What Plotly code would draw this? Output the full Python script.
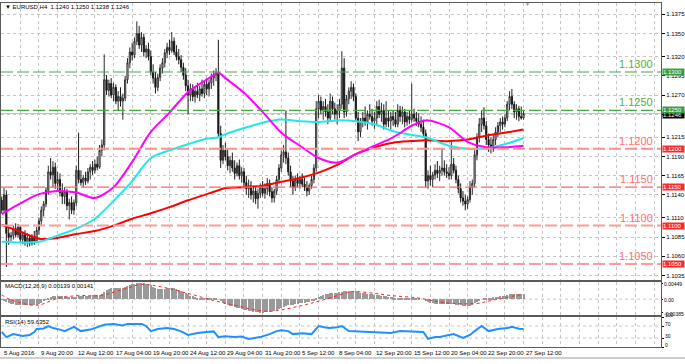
import plotly.graph_objects as go

# ---------------- data ----------------
x_labels = ["5 Aug 2016", "9 Aug 20:00", "12 Aug 12:00", "17 Aug 04:00", "19 Aug 20:00",
            "24 Aug 12:00", "29 Aug 04:00", "31 Aug 20:00", "5 Sep 12:00", "8 Sep 04:00",
            "12 Sep 20:00", "15 Sep 12:00", "20 Sep 04:00", "22 Sep 20:00", "27 Sep 12:00"]
x_label_idx = [0, 16, 32, 48, 64, 80, 96, 112, 128, 144, 160, 176, 192, 208, 224]
grid_idx = list(range(0, 281, 8))

opens = [
    1.1133, 1.1120, 1.1140, 1.1090, 1.1085, 1.1087, 1.1096, 1.1088,
    1.1098, 1.1082, 1.1088, 1.1079, 1.1084, 1.1077, 1.1086, 1.1080,
    1.1094, 1.1106, 1.1120, 1.1128, 1.1146, 1.1170, 1.1166, 1.1176,
    1.1155, 1.1160, 1.1143, 1.1138, 1.1144, 1.1126, 1.1130, 1.1120,
    1.1130, 1.1172, 1.1160, 1.1156, 1.1162, 1.1158, 1.1170, 1.1176,
    1.1172, 1.1180, 1.1176, 1.1198, 1.1205, 1.1290, 1.1276, 1.1285,
    1.1270, 1.1280, 1.1262, 1.1268, 1.1262, 1.1266, 1.1290, 1.1312,
    1.1326, 1.1322, 1.1340, 1.1350, 1.1335, 1.1345, 1.1326, 1.1330,
    1.1320, 1.1300, 1.1292, 1.1280, 1.1293, 1.1305, 1.1312, 1.1325,
    1.1332, 1.1328, 1.1340, 1.1326, 1.1320, 1.1316, 1.1306, 1.1296,
    1.1282, 1.1270, 1.1278, 1.1268, 1.1275, 1.1270, 1.1278, 1.1272,
    1.1284, 1.1278, 1.1286, 1.1292, 1.1296, 1.1298, 1.1220, 1.1185,
    1.1198, 1.1190, 1.1178, 1.1185, 1.1175, 1.1168, 1.1178, 1.1165,
    1.1170, 1.1156, 1.1148, 1.1152, 1.1140, 1.1145, 1.1135, 1.1142,
    1.1150, 1.1142, 1.1148, 1.1155, 1.1144, 1.1136, 1.1145, 1.1160,
    1.1175, 1.1192, 1.1196, 1.1188, 1.1170, 1.1158, 1.1150, 1.1160,
    1.1155, 1.1160, 1.1154, 1.1150, 1.1145, 1.1152, 1.1160, 1.1175,
    1.1252, 1.1262, 1.1250, 1.1255, 1.1248, 1.1240, 1.1262, 1.1252,
    1.1245, 1.1250, 1.1258, 1.1305, 1.1248, 1.1265, 1.1275, 1.1280,
    1.1268, 1.1240, 1.1222, 1.1235, 1.1240, 1.1235, 1.1245, 1.1242,
    1.1236, 1.1240, 1.1255, 1.1245, 1.1250, 1.1232, 1.1240, 1.1236,
    1.1242, 1.1238, 1.1232, 1.1250, 1.1242, 1.1248, 1.1235, 1.1242,
    1.1238, 1.1245, 1.1240, 1.1236, 1.1232, 1.1228, 1.1220, 1.1158,
    1.1165, 1.1160, 1.1166, 1.1172, 1.1168, 1.1172, 1.1175, 1.1170,
    1.1168, 1.1165, 1.1180, 1.1172, 1.1160, 1.1148, 1.1136, 1.1132,
    1.1128, 1.1134, 1.1150, 1.1155, 1.1192, 1.1215, 1.1232, 1.1240,
    1.1230, 1.1212, 1.1205, 1.1200, 1.1212, 1.1222, 1.1230, 1.1235,
    1.1232, 1.1240, 1.1258, 1.1268, 1.1258, 1.1248, 1.1252, 1.1242,
    1.1240]
highs = [
    1.1138, 1.1149, 1.1146, 1.1098, 1.1092, 1.1100, 1.1103, 1.1102,
    1.1100, 1.1092, 1.1094, 1.1090, 1.1088, 1.1089, 1.1093, 1.1098,
    1.1110, 1.1125, 1.1132, 1.1150, 1.1178, 1.1188, 1.1184, 1.1182,
    1.1170, 1.1168, 1.1155, 1.1150, 1.1148, 1.1135, 1.1138, 1.1134,
    1.1178, 1.1221, 1.1172, 1.1166, 1.1170, 1.1175, 1.1180, 1.1184,
    1.1186, 1.1190, 1.1205, 1.1212, 1.1323, 1.1296, 1.1290, 1.1292,
    1.1286, 1.1284, 1.1275, 1.1280, 1.1272, 1.1295, 1.1318, 1.1332,
    1.1338, 1.1345, 1.1366, 1.1360, 1.1352, 1.1350, 1.1335, 1.1338,
    1.1328, 1.1310, 1.1300, 1.1298, 1.1310, 1.1318, 1.1330, 1.1338,
    1.1342, 1.1352, 1.1345, 1.1335, 1.1330, 1.1322, 1.1312, 1.1305,
    1.1290, 1.1285, 1.1284, 1.1280, 1.1286, 1.1282, 1.1290, 1.1288,
    1.1292, 1.1290, 1.1298, 1.1302, 1.1305, 1.1342, 1.1230, 1.1205,
    1.1208, 1.1200, 1.1190, 1.1195, 1.1185, 1.1182, 1.1186, 1.1176,
    1.1175, 1.1165, 1.1160, 1.1158, 1.1152, 1.1150, 1.1148, 1.1155,
    1.1158, 1.1155, 1.1162, 1.1160, 1.1150, 1.1148, 1.1165, 1.1180,
    1.1198, 1.1205, 1.1250, 1.1195, 1.1178, 1.1165, 1.1165, 1.1168,
    1.1165, 1.1168, 1.1162, 1.1158, 1.1155, 1.1165, 1.1180, 1.1262,
    1.1270, 1.1268, 1.1262, 1.1265, 1.1258, 1.1272, 1.1268, 1.1260,
    1.1258, 1.1265, 1.1327, 1.1318, 1.1270, 1.1280, 1.1288, 1.1285,
    1.1272, 1.1248, 1.1240, 1.1248, 1.1255, 1.1250, 1.1258, 1.1252,
    1.1248, 1.1262, 1.1264, 1.1260, 1.1258, 1.1262, 1.1250, 1.1248,
    1.1250, 1.1248, 1.1258, 1.1256, 1.1255, 1.1252, 1.1248, 1.1250,
    1.1285, 1.1252, 1.1248, 1.1246, 1.1242, 1.1238, 1.1225, 1.1172,
    1.1178, 1.1170, 1.1180, 1.1184, 1.1178, 1.1200, 1.1185, 1.1180,
    1.1176, 1.1210, 1.1188, 1.1178, 1.1165, 1.1155, 1.1145, 1.1140,
    1.1138, 1.1158, 1.1160, 1.1198, 1.1220, 1.1240, 1.1250, 1.1254,
    1.1236, 1.1220, 1.1215, 1.1218, 1.1228, 1.1235, 1.1240, 1.1242,
    1.1245, 1.1262, 1.1275, 1.1278, 1.1262, 1.1258, 1.1256, 1.1255,
    1.1250]
lows = [
    1.1116, 1.1118, 1.1046, 1.1075, 1.1080, 1.1082, 1.1085, 1.1084,
    1.1078, 1.1076, 1.1074, 1.1072, 1.1073, 1.1074, 1.1075, 1.1077,
    1.1088, 1.1100, 1.1112, 1.1124, 1.1140, 1.1160, 1.1150, 1.1148,
    1.1145, 1.1138, 1.1128, 1.1128, 1.1120, 1.1108, 1.1115, 1.1114,
    1.1125, 1.1155, 1.1152, 1.1150, 1.1153, 1.1155, 1.1160, 1.1166,
    1.1168, 1.1172, 1.1174, 1.1190, 1.1198, 1.1270, 1.1268, 1.1266,
    1.1262, 1.1258, 1.1250, 1.1255, 1.1238, 1.1262, 1.1285, 1.1305,
    1.1315, 1.1318, 1.1335, 1.1330, 1.1326, 1.1320, 1.1318, 1.1315,
    1.1296, 1.1285, 1.1272, 1.1275, 1.1288, 1.1298, 1.1306, 1.1318,
    1.1322, 1.1325, 1.1322, 1.1315, 1.1310, 1.1300, 1.1290, 1.1275,
    1.1245, 1.1262, 1.1262, 1.1260, 1.1266, 1.1262, 1.1268, 1.1266,
    1.1270, 1.1268, 1.1278, 1.1282, 1.1288, 1.1215, 1.1175, 1.1180,
    1.1185, 1.1172, 1.1168, 1.1170, 1.1160, 1.1164, 1.1160, 1.1156,
    1.1150, 1.1140, 1.1136, 1.1134, 1.1130, 1.1128, 1.1122, 1.1136,
    1.1138, 1.1135, 1.1140, 1.1138, 1.1130, 1.1130, 1.1140, 1.1155,
    1.1170, 1.1182, 1.1180, 1.1165, 1.1150, 1.1140, 1.1145, 1.1150,
    1.1148, 1.1150, 1.1145, 1.1138, 1.1140, 1.1148, 1.1155, 1.1170,
    1.1240, 1.1245, 1.1238, 1.1242, 1.1232, 1.1236, 1.1245, 1.1238,
    1.1232, 1.1240, 1.1252, 1.1240, 1.1242, 1.1258, 1.1265, 1.1262,
    1.1235, 1.1210, 1.1215, 1.1228, 1.1230, 1.1225, 1.1238, 1.1230,
    1.1226, 1.1232, 1.1240, 1.1235, 1.1225, 1.1228, 1.1228, 1.1225,
    1.1230, 1.1228, 1.1228, 1.1235, 1.1232, 1.1228, 1.1230, 1.1232,
    1.1234, 1.1235, 1.1230, 1.1228, 1.1222, 1.1215, 1.1150, 1.1148,
    1.1152, 1.1150, 1.1160, 1.1162, 1.1158, 1.1165, 1.1165, 1.1162,
    1.1160, 1.1160, 1.1168, 1.1155, 1.1142, 1.1130, 1.1126, 1.1120,
    1.1122, 1.1130, 1.1140, 1.1150, 1.1185, 1.1208, 1.1222, 1.1225,
    1.1205, 1.1196, 1.1194, 1.1196, 1.1205, 1.1215, 1.1222, 1.1225,
    1.1228, 1.1236, 1.1250, 1.1252, 1.1240, 1.1238, 1.1236, 1.1238,
    1.1238]
closes = [
    1.1120, 1.1140, 1.1090, 1.1085, 1.1087, 1.1096, 1.1088, 1.1098,
    1.1082, 1.1088, 1.1079, 1.1084, 1.1077, 1.1086, 1.1080, 1.1094,
    1.1106, 1.1120, 1.1128, 1.1146, 1.1170, 1.1166, 1.1176, 1.1155,
    1.1160, 1.1143, 1.1138, 1.1144, 1.1126, 1.1130, 1.1120, 1.1130,
    1.1172, 1.1160, 1.1156, 1.1162, 1.1158, 1.1170, 1.1176, 1.1172,
    1.1180, 1.1176, 1.1198, 1.1205, 1.1290, 1.1276, 1.1285, 1.1270,
    1.1280, 1.1262, 1.1268, 1.1262, 1.1266, 1.1290, 1.1312, 1.1326,
    1.1322, 1.1340, 1.1350, 1.1335, 1.1345, 1.1326, 1.1330, 1.1320,
    1.1300, 1.1292, 1.1280, 1.1293, 1.1305, 1.1312, 1.1325, 1.1332,
    1.1328, 1.1340, 1.1326, 1.1320, 1.1316, 1.1306, 1.1296, 1.1282,
    1.1270, 1.1278, 1.1268, 1.1275, 1.1270, 1.1278, 1.1272, 1.1284,
    1.1278, 1.1286, 1.1292, 1.1296, 1.1298, 1.1220, 1.1185, 1.1198,
    1.1190, 1.1178, 1.1185, 1.1175, 1.1168, 1.1178, 1.1165, 1.1170,
    1.1156, 1.1148, 1.1152, 1.1140, 1.1145, 1.1135, 1.1142, 1.1150,
    1.1142, 1.1148, 1.1155, 1.1144, 1.1136, 1.1145, 1.1160, 1.1175,
    1.1192, 1.1196, 1.1188, 1.1170, 1.1158, 1.1150, 1.1160, 1.1155,
    1.1160, 1.1154, 1.1150, 1.1145, 1.1152, 1.1160, 1.1175, 1.1252,
    1.1262, 1.1250, 1.1255, 1.1248, 1.1240, 1.1262, 1.1252, 1.1245,
    1.1250, 1.1258, 1.1305, 1.1248, 1.1265, 1.1275, 1.1280, 1.1268,
    1.1240, 1.1222, 1.1235, 1.1240, 1.1235, 1.1245, 1.1242, 1.1236,
    1.1240, 1.1255, 1.1245, 1.1250, 1.1232, 1.1240, 1.1236, 1.1242,
    1.1238, 1.1232, 1.1250, 1.1242, 1.1248, 1.1235, 1.1242, 1.1238,
    1.1245, 1.1240, 1.1236, 1.1232, 1.1228, 1.1220, 1.1158, 1.1165,
    1.1160, 1.1166, 1.1172, 1.1168, 1.1172, 1.1175, 1.1170, 1.1168,
    1.1165, 1.1180, 1.1172, 1.1160, 1.1148, 1.1136, 1.1132, 1.1128,
    1.1134, 1.1150, 1.1155, 1.1192, 1.1215, 1.1232, 1.1240, 1.1230,
    1.1212, 1.1205, 1.1200, 1.1212, 1.1222, 1.1230, 1.1235, 1.1232,
    1.1240, 1.1258, 1.1268, 1.1258, 1.1248, 1.1252, 1.1242, 1.1240,
    1.1246]

# moving averages, read at sample bars
ma_idx = [0, 8, 16, 24, 32, 40, 48, 56, 64, 72, 80, 88, 93, 96, 104, 112, 120, 128,
          136, 144, 152, 160, 168, 176, 182, 192, 200, 208, 216, 224]
ma_fast = [1.1115, 1.1129, 1.1141, 1.1145, 1.1143, 1.1136, 1.1150, 1.1183, 1.1222, 1.1247,
           1.1274, 1.1290, 1.1299, 1.1292, 1.1273, 1.1248, 1.1221, 1.1204, 1.1188, 1.1182,
           1.1193, 1.1204, 1.1215, 1.1230, 1.1237, 1.1228, 1.1209, 1.1202, 1.1202, 1.1204]
ma_mid = [1.1079, 1.1078, 1.1079, 1.1087, 1.1096, 1.1109, 1.1132, 1.1158, 1.1188, 1.1198,
          1.1206, 1.1213, 1.1215, 1.1219, 1.1227, 1.1234, 1.1238, 1.1236, 1.1235, 1.1237,
          1.1236, 1.1232, 1.1223, 1.1218, 1.1215, 1.1204, 1.1200, 1.1201, 1.1206, 1.1214]
ma_slow = [1.1101, 1.1092, 1.1083, 1.1084, 1.1089, 1.1093, 1.1100, 1.1109, 1.1116, 1.1124,
           1.1133, 1.1141, 1.1146, 1.1149, 1.1150, 1.1152, 1.1157, 1.1162, 1.1169, 1.1179,
           1.1193, 1.1202, 1.1208, 1.1210, 1.1211, 1.1210, 1.1212, 1.1217, 1.1221, 1.1225]

macd_main = [
    -0.0002, -0.0004, -0.0008, -0.0011, -0.0013,
    -0.0014, -0.0015, -0.0016, -0.0016, -0.0017, -0.0017, -0.0017, -0.0017, -0.0016, -0.0016, -0.0015, -0.0013, -0.0010,
    -0.0006, -0.0002, 0.0002, 0.0005, 0.0008, 0.0009, 0.0010,
    0.0009, 0.0009, 0.0008, 0.0007, 0.0006, 0.0006, 0.0006, 0.0007,
    0.0009, 0.0009, 0.0009, 0.0009, 0.0010, 0.0010, 0.0011, 0.0011, 0.0011, 0.0012,
    0.0013, 0.0020, 0.0025, 0.0028, 0.0030, 0.0031, 0.0031, 0.0031, 0.0031, 0.0031, 0.0033, 0.0036, 0.0039, 0.0041, 0.0043, 0.0045,
    0.0045, 0.0045, 0.0044, 0.0043, 0.0041, 0.0038,
    0.0035, 0.0031, 0.0029, 0.0028, 0.0028, 0.0029, 0.0030, 0.0030,
    0.0031, 0.0030, 0.0028, 0.0026, 0.0024, 0.0021, 0.0018, 0.0014,
    0.0010, 0.0008, 0.0006, 0.0004, 0.0003, 0.0002, 0.0002, 0.0002, 0.0002, 0.0002, 0.0003, 0.0003,
    0.0000, -0.0006, -0.0010, -0.0013, -0.0016, -0.0018, -0.0020, -0.0023, -0.0024, -0.0026, -0.0027, -0.0029,
    -0.0031, -0.0032, -0.0034, -0.0035, -0.0036, -0.0037,
    -0.0038, -0.0038, -0.0037, -0.0036, -0.0035, -0.0034, -0.0033,
    -0.0031, -0.0028, -0.0025, -0.0022, -0.0018, -0.0017, -0.0016, -0.0015, -0.0014, -0.0013, -0.0012,
    -0.0011, -0.0010, -0.0009, -0.0008, -0.0006, -0.0004, 0.0002,
    0.0006, 0.0009, 0.0011, 0.0013, 0.0014, 0.0016, 0.0017, 0.0017, 0.0018, 0.0019, 0.0021, 0.0022,
    0.0022, 0.0023, 0.0024, 0.0024, 0.0023,
    0.0020, 0.0018, 0.0017, 0.0016, 0.0015, 0.0014, 0.0013, 0.0012, 0.0012, 0.0011, 0.0010, 0.0009,
    0.0008, 0.0007, 0.0006, 0.0005, 0.0004, 0.0004,
    0.0003, 0.0003, 0.0002, 0.0002, 0.0002, 0.0003, 0.0002, 0.0001, 0.0001, 0.0000, 0.0000,
    -0.0005, -0.0008, -0.0010, -0.0012, -0.0013, -0.0013, -0.0013, -0.0013, -0.0013, -0.0013,
    -0.0014, -0.0014, -0.0014, -0.0015, -0.0016, -0.0017, -0.0018, -0.0019, -0.0019,
    -0.0018, -0.0016, -0.0012, -0.0008, -0.0004, 0.0000, 0.0002, 0.0003,
    0.0004, 0.0004, 0.0005, 0.0006, 0.0007, 0.0008, 0.0009, 0.0010, 0.0012, 0.0013, 0.0014, 0.0014,
    0.0014, 0.0014, 0.0014, 0.00139]
sig_idx = [0, 4, 15, 24, 33, 42, 52, 60, 67, 80, 91, 100, 108, 114, 118, 128, 137, 148,
           151, 160, 167, 179, 188, 194, 204, 210, 224]
sig_val = [0.0012, -0.0002, -0.0017, 0.0002, 0.0010, 0.0010, 0.0027, 0.0041, 0.0036, 0.0016,
           -0.0004, -0.0017, -0.0029, -0.0034, -0.0032, -0.0019, -0.0004, 0.0017, 0.0021,
           0.0016, 0.0010, 0.0003, -0.0008, -0.0012, -0.0012, -0.0004, 0.00141]

rsi_idx = [0, 2, 5, 9, 12, 14, 15, 18, 20, 22, 25, 27, 31, 34, 38, 42, 44, 48, 52, 54, 58,
           60, 62, 64, 67, 71, 74, 77, 80, 84, 88, 91, 93, 96, 100, 103, 106, 109, 111, 115,
           118, 120, 123, 125, 129, 133, 136, 139, 141, 144, 146, 149, 152, 154, 158, 161,
           164, 167, 171, 176, 181, 183, 186, 188, 191, 194, 198, 201, 203, 206, 209, 213,
           217, 219, 222, 224]
rsi_val = [50, 33, 43, 37, 40, 50, 60, 62, 70, 63, 58, 53, 67, 53, 58, 70, 74, 77, 72, 77, 78,
           77, 70, 53, 60, 63, 60, 52, 40, 47, 50, 52, 33, 36, 33, 35, 27, 30, 33, 43,
           53, 56, 53, 43, 46, 43, 70, 65, 63, 66, 70, 53, 52, 50, 51, 50,
           48, 47, 53, 52, 50, 27, 33, 33, 38, 43, 30, 40, 53, 70, 53, 60,
           63, 67, 61, 59.6352]

levels = [1.1300, 1.1250, 1.1200, 1.1150, 1.1100, 1.1050]
level_text = ["1.1300", "1.1250", "1.1200", "1.1150", "1.1100", "1.1050"]
price_ticks = [1.1375, 1.1350, 1.1320, 1.1295, 1.1270, 1.1245, 1.1215, 1.1190, 1.1165,
               1.1140, 1.1110, 1.1085, 1.1060, 1.1035]
last_price = 1.1246
macd_ticks = [0.00449, 0.0, -0.00385]
macd_tick_text = ["0.00449", "0.00", "-0.00385"]
rsi_ticks = [100, 70, 30, 0]

n = len(closes)
assert len(opens) == n and len(highs) == n and len(lows) == n and len(macd_main) == n
assert len(ma_idx) == len(ma_fast) == len(ma_mid) == len(ma_slow)
assert len(sig_idx) == len(sig_val) and len(rsi_idx) == len(rsi_val)
bars = list(range(n))

# ---------------- styling ----------------
FONT = "Liberation Sans, Arial, sans-serif"
GRID = "#c4c4c4"
BORDER = "#5a5a5a"
level_colors = ["#44aa44", "#44aa44", "#ff8f8f", "#ff6464", "#ff9a9a", "#ff9a9a"]
level_widths = [1.2, 1.2, 2, 1.2, 2, 2]
label_colors = ["#55b035", "#55b035", "#ff6f6f", "#ff6f6f", "#ff6f6f", "#ff6f6f"]
box_colors = ["#3c9d3c", "#3c9d3c", "#ff2a2a", "#ff2a2a", "#ff2a2a", "#ff2a2a"]

fig = go.Figure()
fig.add_trace(go.Candlestick(
    x=bars, open=opens, high=highs, low=lows, close=closes,
    increasing=dict(line=dict(color="#2a2a2a", width=1), fillcolor="#ffffff"),
    decreasing=dict(line=dict(color="#1a1a1a", width=1), fillcolor="#000000"),
    whiskerwidth=0, xaxis="x", yaxis="y", hoverinfo="skip", showlegend=False))
for vals, col in [(ma_slow, "#ff0000"), (ma_mid, "#20e8e8"), (ma_fast, "#ff00ff")]:
    fig.add_trace(go.Scatter(x=ma_idx, y=vals, mode="lines", xaxis="x", yaxis="y",
                             line=dict(color=col, width=2, shape="spline", smoothing=0.8),
                             hoverinfo="skip", showlegend=False))
fig.add_trace(go.Bar(x=bars, y=macd_main, xaxis="x2", yaxis="y2", width=0.45,
                     marker=dict(color="#9a9a9a", line=dict(width=0)),
                     hoverinfo="skip", showlegend=False))
fig.add_trace(go.Scatter(x=sig_idx, y=sig_val, mode="lines", xaxis="x2", yaxis="y2",
                         line=dict(color="#ff2020", width=1, dash="dot", shape="spline"),
                         hoverinfo="skip", showlegend=False))
fig.add_trace(go.Scatter(x=rsi_idx, y=rsi_val, mode="lines", xaxis="x3", yaxis="y3",
                         line=dict(color="#1e90ff", width=2),
                         hoverinfo="skip", showlegend=False))

H_TOP, H_BOT = 3, 347
def py(px):
    return (H_BOT - px) / (H_BOT - H_TOP)

xr = [-0.3, 283.0]
xcommon = dict(range=xr, showticklabels=False, tickmode="array", tickvals=grid_idx,
               showgrid=True, gridcolor=GRID, griddash="dot", gridwidth=1, zeroline=False,
               showline=True, linecolor=BORDER, linewidth=1, mirror=True, ticks="",
               fixedrange=True)
ycommon = dict(side="right", showline=True, linecolor=BORDER, linewidth=1, mirror=True,
               zeroline=False, ticks="outside", tickcolor="#000", fixedrange=True,
               automargin=False)

fig.update_layout(
    width=685, height=364,
    margin=dict(l=1, r=24, t=3, b=17),
    paper_bgcolor="white", plot_bgcolor="white",
    showlegend=False, bargap=0,
    xaxis=dict(anchor="y", domain=[0, 1], rangeslider=dict(visible=False), **xcommon),
    xaxis2=dict(anchor="y2", domain=[0, 1], matches="x", **xcommon),
    xaxis3=dict(anchor="y3", domain=[0, 1], matches="x", **xcommon),
    yaxis=dict(anchor="x", domain=[py(280), 1], range=[1.10292, 1.13898],
               tickmode="array", tickvals=price_ticks,
               ticktext=[f"{v:.4f}" for v in price_ticks], ticklen=3,
               tickfont=dict(family=FONT, size=6, color="#000"),
               showgrid=True, gridcolor=GRID, griddash="dot", **ycommon),
    yaxis2=dict(anchor="x2", domain=[py(315), py(282)], range=[-0.00441, 0.00477],
                tickmode="array", tickvals=macd_ticks, ticktext=macd_tick_text, ticklen=1,
                tickfont=dict(family=FONT, size=5, color="#000"), ticklabelshift=1,
                showgrid=False, **ycommon),
    yaxis3=dict(anchor="x3", domain=[0, py(317)], range=[0, 100],
                tickmode="array", tickvals=rsi_ticks, ticklen=2, ticklabelshift=-2,
                tickfont=dict(family=FONT, size=5, color="#000"),
                ticktext=[str(v) for v in rsi_ticks], showgrid=False, **ycommon),
)

shapes = []
# bid line
shapes.append(dict(type="line", xref="paper", yref="y", x0=0, x1=1, y0=last_price,
                   y1=last_price, line=dict(color="#c0c0c0", width=1), layer="below"))
# reference dotted lines in sub windows
shapes.append(dict(type="line", xref="paper", yref="y2", x0=0, x1=1, y0=0, y1=0,
                   line=dict(color=GRID, width=1, dash="dot"), layer="below"))
for lv in (70, 30):
    shapes.append(dict(type="line", xref="paper", yref="y3", x0=0, x1=1, y0=lv, y1=lv,
                       line=dict(color=GRID, width=1, dash="dot"), layer="below"))
# horizontal level lines
for lv, col, w in zip(levels, level_colors, level_widths):
    shapes.append(dict(type="line", xref="paper", yref="y", x0=0, x1=1, y0=lv, y1=lv,
                       line=dict(color=col, width=w, dash="12px,4px")))
# bottom window frame line
shapes.append(dict(type="line", xref="paper", yref="paper", x0=-0.01, x1=1.05,
                   y0=py(358), y1=py(358), line=dict(color="#a0a0a0", width=1)))
fig.update_layout(shapes=shapes)

ann = []
# level labels
for lv, txt, col in zip(levels, level_text, label_colors):
    ann.append(dict(xref="paper", yref="y", x=0.991, y=lv, xanchor="right",
                    yanchor="bottom", text=txt, showarrow=False, yshift=0,
                    font=dict(family=FONT, size=11, color=col)))
# price boxes on the scale
ann.append(dict(xref="paper", yref="y", x=1, y=last_price, xanchor="left", yanchor="top",
                xshift=1, yshift=2, text=f"{last_price:.4f}", showarrow=False,
                bgcolor="#000000", width=21, align="left", borderpad=0,
                font=dict(family=FONT, size=6, color="white")))
for lv, txt, bc in zip(levels, level_text, box_colors):
    ann.append(dict(xref="paper", yref="y", x=1, y=lv, xanchor="left", yanchor="middle",
                    xshift=1, text=txt, showarrow=False, bgcolor=bc, width=21,
                    align="left", borderpad=0,
                    font=dict(family=FONT, size=6, color="white")))
# window titles
ann.append(dict(xref="paper", yref="paper", x=0, y=py(7), xanchor="left", yanchor="middle",
                xshift=2, text="\u25bc EURUSD,H4  1.1240 1.1250 1.1238 1.1246",
                showarrow=False, font=dict(family=FONT, size=6, color="#000")))
ann.append(dict(xref="paper", yref="paper", x=0, y=py(286), xanchor="left",
                yanchor="middle", xshift=2, text="MACD(12,26,9) 0.00139 0.00141",
                showarrow=False, font=dict(family=FONT, size=6, color="#000")))
ann.append(dict(xref="paper", yref="paper", x=0, y=py(322), xanchor="left",
                yanchor="middle", xshift=2, text="RSI(14) 59.6352",
                showarrow=False, font=dict(family=FONT, size=6, color="#000")))
# chart shift marker
ann.append(dict(xref="paper", yref="paper", x=(527 - 1) / 660, y=py(4), xanchor="center",
                yanchor="middle", text="\u25bc", showarrow=False,
                font=dict(family=FONT, size=5, color="#909090")))
# time labels
for idx, txt in zip(x_label_idx, x_labels):
    ann.append(dict(xref="x3", yref="paper", x=idx, y=py(352.5), xanchor="left",
                    yanchor="middle", xshift=0, text=txt, showarrow=False,
                    font=dict(family=FONT, size=6, color="#000")))
fig.update_layout(annotations=ann)

fig.write_html("out.html", config={"displayModeBar": False},
               post_script="document.body.style.margin='0px';document.body.style.overflow='hidden';")
